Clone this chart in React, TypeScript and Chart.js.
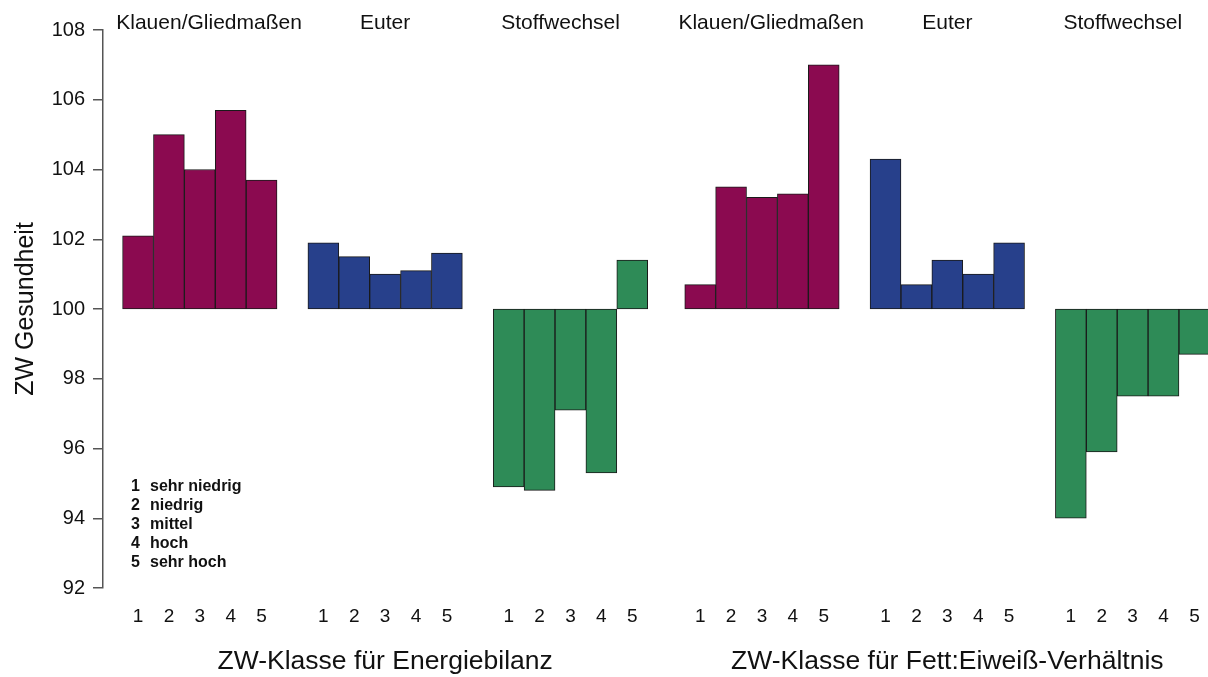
import React, { useEffect, useRef } from "react";
import { Chart, registerables } from "chart.js";

Chart.register(...registerables);

// ---- data ----
const classLabels = ["1", "2", "3", "4", "5"];
const groupTitles = ["Klauen/Gliedmaßen", "Euter", "Stoffwechsel"];
const axisTitles = ["ZW-Klasse für Energiebilanz", "ZW-Klasse für Fett:Eiweiß-Verhältnis"];
const yTitle = "ZW Gesundheit";
const legendNumbers = ["1", "2", "3", "4", "5"];
const legendTexts = ["sehr niedrig", "niedrig", "mittel", "hoch", "sehr hoch"];
const yTicks = [92, 94, 96, 98, 100, 102, 104, 106, 108];
const baseline = 100;

const energieKlauen = [102.1, 105.0, 104.0, 105.7, 103.7];
const energieEuter = [101.9, 101.5, 101.0, 101.1, 101.6];
const energieStoffwechsel = [94.9, 94.8, 97.1, 95.3, 101.4];
const fettEiweissKlauen = [100.7, 103.5, 103.2, 103.3, 107.0];
const fettEiweissEuter = [104.3, 100.7, 101.4, 101.0, 101.9];
const fettEiweissStoffwechsel = [94.0, 95.9, 97.5, 97.5, 98.7];

const groupColors = ["#8B0A50", "#27408B", "#2E8B57"];

// ---- layout constants ----
const FONT = "'Liberation Sans', Arial, Helvetica, sans-serif";
const SLOTS_PER_GROUP = 6;
const HALF_SHIFT = 0.2;
const titleOffsets = [0.3, 0, -0.32];

export default function App() {
  const ref = useRef<HTMLCanvasElement>(null);

  useEffect(() => {
    if (!ref.current) return;
    const series = [
      energieKlauen,
      energieEuter,
      energieStoffwechsel,
      fettEiweissKlauen,
      fettEiweissEuter,
      fettEiweissStoffwechsel,
    ];
    const slotX = (g: number, k: number) =>
      g * SLOTS_PER_GROUP + k + 1 + (g >= 3 ? HALF_SHIFT : 0);
    const groupCenter = (g: number) => slotX(g, 2);

    const points: any[] = [];
    const bg: string[] = [];
    const tickValues: number[] = [];
    series.forEach((vals, g) => {
      vals.forEach((v, k) => {
        points.push({ x: slotX(g, k), y: [baseline, v] });
        bg.push(groupColors[g % 3]);
        tickValues.push(slotX(g, k));
      });
    });

    const textPlugin = {
      id: "texts",
      afterDraw(chart: any) {
        const ctx = chart.ctx;
        const xs = chart.scales.x;
        const ys = chart.scales.y;
        const area = chart.chartArea;
        ctx.save();
        ctx.fillStyle = "#111";
        // group titles at top
        ctx.font = `21px ${FONT}`;
        ctx.textAlign = "center";
        ctx.textBaseline = "alphabetic";
        for (let g = 0; g < series.length; g++) {
          const t = groupTitles[g % 3];
          const px = xs.getPixelForValue(groupCenter(g) + titleOffsets[g % 3]);
          ctx.fillText(t, px, 29);
        }
        // bottom axis titles
        ctx.font = `26.5px ${FONT}`;
        ctx.fillText(axisTitles[0], xs.getPixelForValue(groupCenter(1)), 669);
        ctx.fillText(axisTitles[1], xs.getPixelForValue(groupCenter(4)), 669);
        // class legend
        ctx.font = `bold 16px ${FONT}`;
        ctx.textBaseline = "middle";
        ctx.textAlign = "left";
        const y0 = ys.getPixelForValue(94.92);
        legendNumbers.forEach((n, i) => {
          const y = y0 + i * 19;
          ctx.fillText(n, area.left + 28, y);
          ctx.fillText(legendTexts[i], area.left + 47, y);
        });
        ctx.restore();
      },
    };

    const chart = new Chart(ref.current, {
      type: "bar",
      data: {
        datasets: [
          {
            data: points,
            backgroundColor: bg,
            borderColor: "#1a1a1a",
            borderWidth: 1,
            borderSkipped: false,
            barPercentage: 1,
            categoryPercentage: 1,
          } as any,
        ],
      },
      options: {
        responsive: false,
        animation: false,
        layout: { padding: { top: 30, left: 0, right: 0, bottom: 0 } },
        plugins: {
          legend: { display: false },
          tooltip: { enabled: false },
        },
        scales: {
          x: {
            type: "linear",
            offset: false,
            min: -0.134,
            max: 35.64,
            afterBuildTicks: (s: any) => {
              s.ticks = tickValues.map((v) => ({ value: v }));
            },
            afterFit: (s: any) => {
              s.height = 89;
            },
            grid: { display: false, drawTicks: true, tickLength: 17 },
            border: { display: false },
            ticks: {
              autoSkip: false,
              maxRotation: 0,
              minRotation: 0,
              padding: 0,
              color: "#111",
              font: { family: FONT, size: 19 },
              callback: (_v: any, i: number) => classLabels[i % classLabels.length],
            },
          },
          y: {
            type: "linear",
            min: 92,
            max: 108,
            afterBuildTicks: (s: any) => {
              s.ticks = yTicks.map((v) => ({ value: v }));
            },
            afterFit: (s: any) => {
              s.width = 103;
            },
            grid: {
              drawOnChartArea: false,
              drawTicks: true,
              tickLength: 10,
              color: "#555",
              lineWidth: 1.5,
            },
            border: { display: true, color: "#555", width: 1.5 },
            ticks: {
              padding: 8,
              color: "#111",
              font: { family: FONT, size: 20 },
            },
            title: {
              display: true,
              text: yTitle,
              color: "#111",
              font: { family: FONT, size: 25 },
              padding: { top: 11, bottom: 0 },
            },
          },
        },
      },
      plugins: [textPlugin],
    } as any);

    return () => chart.destroy();
  }, []);

  return (
    <div
      style={{
        position: "fixed",
        left: 0,
        top: 0,
        width: 1208,
        height: 677,
        background: "#fff",
        overflow: "hidden",
      }}
    >
      <canvas ref={ref} width={1208} height={677} style={{ display: "block" }} />
    </div>
  );
}
